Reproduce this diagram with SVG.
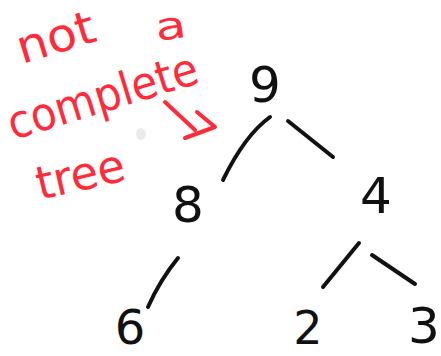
<svg xmlns="http://www.w3.org/2000/svg" width="441" height="356" viewBox="0 0 441 356">
<style>
.num{font-family:"DejaVu Sans",sans-serif;font-size:50px;fill:#111;text-anchor:middle}
.note{font-family:"DejaVu Sans",sans-serif;font-size:46px;fill:#ff2b3a}
.edge{fill:none;stroke:#111;stroke-width:4;stroke-linecap:round}
.red{fill:none;stroke:#ff2b3a;stroke-width:4;stroke-linecap:round;stroke-linejoin:round}
</style>
<rect width="441" height="356" fill="#fff"/>
<g id="annotation">
<text class="note" transform="translate(22,64) rotate(-17)" textLength="80" lengthAdjust="spacingAndGlyphs">not</text>
<text class="note" transform="translate(157,41) rotate(-8)" style="font-size:38px" textLength="31" lengthAdjust="spacingAndGlyphs">a</text>
<text class="note" transform="translate(13,140) rotate(-17)" textLength="197" lengthAdjust="spacingAndGlyphs">complete</text>
<text class="note" transform="translate(40,200) rotate(-13)" textLength="90" lengthAdjust="spacingAndGlyphs">tree</text>
<path class="red" d="M165,102 L195,130 M197,112 L215,127 L185,138"/>
<ellipse cx="141" cy="134" rx="5" ry="6" fill="#ddd" opacity="0.6"/>
</g>
<g id="edges">
<path class="edge" d="M270,117 Q245,135 223,180"/>
<path class="edge" d="M288,121 L333,157"/>
<path class="edge" d="M178,258 Q160,280 148,307"/>
<path class="edge" d="M359,243 L323,287"/>
<path class="edge" d="M372,255 L415,284"/>
</g>
<g id="n9"><text class="num" x="265" y="102">9</text></g>
<g id="n8"><text class="num" x="188" y="222">8</text></g>
<g id="n4"><text class="num" x="376" y="213">4</text></g>
<g id="n6"><text class="num" x="130" y="344" style="font-size:48px">6</text></g>
<g id="n2"><text class="num" x="308" y="344" style="font-size:46px">2</text></g>
<g id="n3"><text class="num" x="424" y="343" style="font-size:50px">3</text></g>
</svg>
